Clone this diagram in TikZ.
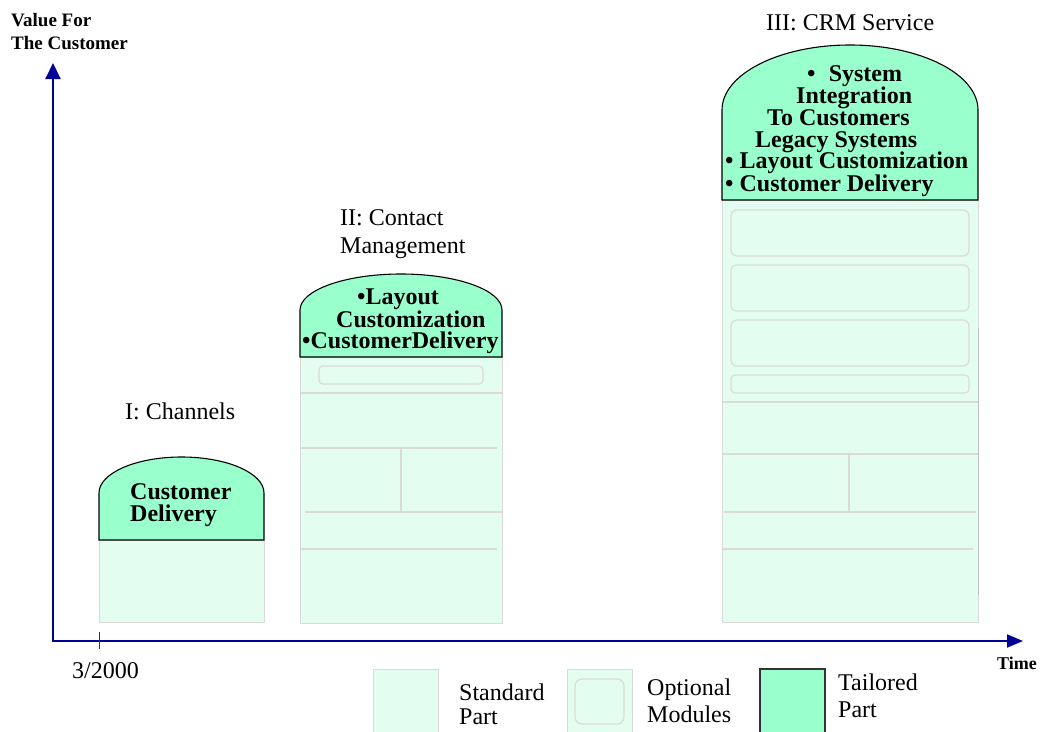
\documentclass[tikz,border=0pt]{standalone}
\usepackage{fontspec}
\setmainfont{Liberation Serif}
\usetikzlibrary{arrows.meta}
\definecolor{stdfill}{RGB}{227,253,240}
\definecolor{tailfill}{RGB}{153,255,204}
\definecolor{partline}{RGB}{218,218,218}
\definecolor{axisblue}{RGB}{0,0,150}
\begin{document}
\begin{tikzpicture}[x=1pt,y=-1pt,
  lbl/.style={font=\fontsize{24}{29}\selectfont, inner sep=0pt, anchor=base west},
  blbl/.style={font=\fontsize{24}{22}\selectfont\bfseries, inner sep=0pt, anchor=base west},
  axlbl/.style={font=\fontsize{19}{23}\selectfont\bfseries, inner sep=0pt, anchor=base west},
  stdpart/.style={fill=stdfill, draw=partline, line width=1pt},
  divider/.style={draw=partline, line width=1.2pt},
  module/.style={draw=partline, line width=1.2pt, rounded corners=6pt},
  tailored/.style={fill=tailfill, draw=black, line width=1.1pt},
  axis/.style={draw=axisblue, line width=2pt}
]
\useasboundingbox (0,0) rectangle (1040,731);

% ---------- axes ----------
\coordinate (O) at (53,641);
\coordinate (Ytop) at (53,63);
\coordinate (Xend) at (1023,641);
\draw[axis, {Triangle[length=16pt,width=15pt]}-{Triangle[length=16pt,width=13pt]}] (Ytop) -- (O) -- (Xend);
\draw[black!80, line width=1pt] (99,632) -- (99,649);
\node[axlbl] (vf1) at (11,26) {Value For};
\node[axlbl] (vf2) at (11,49) {The Customer};
\node[font=\fontsize{18}{22}\selectfont\bfseries, inner sep=0pt, anchor=base west] (time) at (997,669) {Time};
\node[lbl] (date) at (72,678) {3/2000};

% ---------- I: Channels ----------
\draw[stdpart] (99,540) rectangle (264,622);
\draw[tailored] (99,540) -- (99,493) arc[start angle=180, end angle=0, x radius=82.5pt, y radius=36pt] -- (264,540) -- cycle;
\node[lbl] (t1) at (125,419) {I: Channels};
\node[blbl] (c1a) at (130,499) {Customer};
\node[blbl] (c1b) at (130,521) {Delivery};

% ---------- II: Contact Management ----------
\draw[stdpart] (300,357) rectangle (502,623);
\draw[module, rounded corners=4pt] (319,366) rectangle (483,384);
\draw[divider] (300,393) -- (502,393);
\draw[divider] (300,448) -- (497,448);
\draw[divider] (401,448) -- (401,512);
\draw[divider] (305,512) -- (502,512);
\draw[divider] (300,549) -- (497,549);
\draw[tailored] (300,357) -- (300,310) arc[start angle=180, end angle=0, x radius=101pt, y radius=36pt] -- (502,357) -- cycle;
\node[lbl] (t2a) at (340,225) {II: Contact};
\node[lbl] (t2b) at (340,253) {Management};
\node[blbl] (c2a) at (357,304) {•Layout};
\node[blbl] (c2b) at (336,327) {Customization};
\node[blbl] (c2c) at (302,348) {•CustomerDelivery};

% ---------- III: CRM Service ----------
\draw[stdpart] (722,200) rectangle (978,622);
\draw[module] (731,210) rectangle (969,256);
\draw[module] (731,265) rectangle (969,311);
\draw[module] (731,320) rectangle (969,366);
\draw[module, rounded corners=4pt] (731,375) rectangle (969,393);
\draw[divider] (722,402) -- (978,402);
\draw[divider] (722,454) -- (978,454);
\draw[divider] (849,454) -- (849,512);
\draw[divider] (724,512) -- (976,512);
\draw[divider] (722,549) -- (973,549);
\draw[black!25, line width=1.5pt] (978.5,328) -- (978.5,595);
\draw[tailored] (722,200) -- (722,110) arc[start angle=180, end angle=0, x radius=128pt, y radius=65pt] -- (978,200) -- cycle;
\node[lbl] (t3) at (766,30) {III: CRM Service};
\node[blbl] (c3a) at (807,81) {•\hspace{0.55em}System};
\node[blbl] (c3b) at (796,103) {Integration};
\node[blbl] (c3c) at (767,125) {To Customers};
\node[blbl] (c3d) at (755,147) {Legacy Systems};
\node[blbl] (c3e) at (725,168) {• Layout Customization};
\node[blbl] (c3f) at (725,191) {• Customer Delivery};

% ---------- legend ----------
\draw[stdpart] (373,669) rectangle (438,736);
\node[lbl] (lg1a) at (459,700) {Standard};
\node[lbl] (lg1b) at (459,724) {Part};
\draw[stdpart] (567,669) rectangle (632,736);
\draw[module, rounded corners=7pt] (575,679) rectangle (624,724);
\node[lbl] (lg2a) at (647,695) {Optional};
\node[lbl] (lg2b) at (647,722) {Modules};
\draw[tailored, draw=black!80] (760,669) rectangle (825,736);
\node[lbl] (lg3a) at (838,690) {Tailored};
\node[lbl] (lg3b) at (838,717) {Part};
\end{tikzpicture}
\end{document}
